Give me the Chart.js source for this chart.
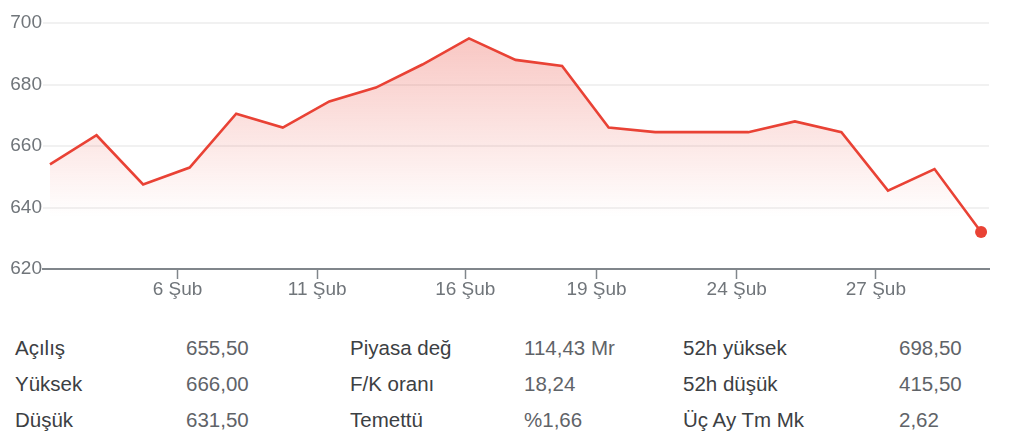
<!DOCTYPE html>
<html>
<head>
<meta charset="utf-8">
<script src="https://cdn.jsdelivr.net/npm/chart.js@4.4.1/dist/chart.umd.min.js"></script>
<style>
  html, body { margin: 0; padding: 0; background: #ffffff; }
  body { width: 1024px; height: 445px; position: relative; overflow: hidden; font-family: "Liberation Sans", Arial, sans-serif; }
  #wrap { position: absolute; left: 0; top: 0; width: 1024px; height: 310px; }
  .stat { position: absolute; font-size: 20.5px; line-height: 36px; white-space: nowrap; }
  .lbl { color: #3c4043; }
  .val { color: #5f6368; }
</style>
</head>
<body>
<div id="wrap"><canvas id="c" width="1024" height="310"></canvas></div>
<div id="stats"></div>
<script>
// ---- data ----
const prices = [654, 663.5, 647.5, 653, 670.5, 666, 674.5, 679, 686.5, 695, 688, 686, 666, 664.5, 664.5, 664.5, 668, 664.5, 645.5, 652.5, 632];
const tickLabels = ['6 Şub', '11 Şub', '16 Şub', '19 Şub', '24 Şub', '27 Şub'];
const tickPositions = [2.74, 5.74, 8.92, 11.74, 14.75, 17.74];
const yTicks = [620, 640, 660, 680, 700];

const statCol1Labels = ['Açılış', 'Yüksek', 'Düşük'];
const statCol1Values = ['655,50', '666,00', '631,50'];
const statCol2Labels = ['Piyasa değ', 'F/K oranı', 'Temettü'];
const statCol2Values = ['114,43 Mr', '18,24', '%1,66'];
const statCol3Labels = ['52h yüksek', '52h düşük', 'Üç Ay Tm Mk'];
const statCol3Values = ['698,50', '415,50', '2,62'];

// ---- stats table ----
const statsEl = document.getElementById('stats');
const cols = [
  { labels: statCol1Labels, values: statCol1Values, lx: 15, vx: 186 },
  { labels: statCol2Labels, values: statCol2Values, lx: 350, vx: 524 },
  { labels: statCol3Labels, values: statCol3Values, lx: 683, vx: 899 }
];
cols.forEach(col => {
  col.labels.forEach((t, r) => {
    const a = document.createElement('div');
    a.className = 'stat lbl';
    a.style.left = col.lx + 'px';
    a.style.top = (330 + r * 36) + 'px';
    a.textContent = t;
    statsEl.appendChild(a);
    const b = document.createElement('div');
    b.className = 'stat val';
    b.style.left = col.vx + 'px';
    b.style.top = (330 + r * 36) + 'px';
    b.textContent = col.values[r];
    statsEl.appendChild(b);
  });
});

// ---- chart ----
const points = prices.map((v, i) => ({ x: i, y: v }));
const lastIdx = prices.length - 1;
const RED = '#e94235';

new Chart(document.getElementById('c'), {
  type: 'line',
  data: {
    datasets: [{
      data: points,
      borderColor: RED,
      borderWidth: 2.6,
      tension: 0,
      fill: 'start',
      backgroundColor: (ctx) => {
        const chart = ctx.chart;
        const area = chart.chartArea;
        if (!area) return 'rgba(233,66,53,0.15)';
        const yS = chart.scales.y;
        const g = chart.ctx.createLinearGradient(0, area.top, 0, yS.getPixelForValue(637));
        g.addColorStop(0, 'rgba(233,66,53,0.32)');
        g.addColorStop(1, 'rgba(233,66,53,0)');
        return g;
      },
      pointRadius: (ctx) => ctx.dataIndex === lastIdx ? 6 : 0,
      pointHoverRadius: 0,
      pointBackgroundColor: RED,
      pointBorderColor: RED,
      pointBorderWidth: 0
    }]
  },
  options: {
    responsive: false,
    animation: false,
    layout: { padding: { top: 23, right: 35, bottom: 0, left: 0 } },
    plugins: { legend: { display: false }, tooltip: { enabled: false } },
    scales: {
      x: {
        type: 'linear',
        min: -0.15,
        max: 20.17,
        afterBuildTicks: (scale) => { scale.ticks = tickPositions.map(v => ({ value: v })); },
        afterFit: (scale) => { scale.height = 41; },
        grid: { display: true, drawOnChartArea: false, drawTicks: true, tickLength: 10, color: '#80868b', tickWidth: 1.5 },
        border: { display: true, color: '#80868b', width: 2 },
        ticks: {
          autoSkip: false,
          maxRotation: 0,
          padding: -1,
          color: '#70757a',
          font: { family: '"Liberation Sans", Arial, sans-serif', size: 19 },
          callback: (val, idx) => tickLabels[idx]
        }
      },
      y: {
        min: 620,
        max: 700,
        afterBuildTicks: (scale) => { scale.ticks = yTicks.map(v => ({ value: v })); },
        afterFit: (scale) => { scale.width = 43; },
        grid: { drawTicks: false, color: '#f1f1f1', lineWidth: 2 },
        border: { display: false },
        ticks: {
          padding: 1,
          color: '#70757a',
          font: { family: '"Liberation Sans", Arial, sans-serif', size: 19 }
        }
      }
    }
  }
});
</script>
</body>
</html>
